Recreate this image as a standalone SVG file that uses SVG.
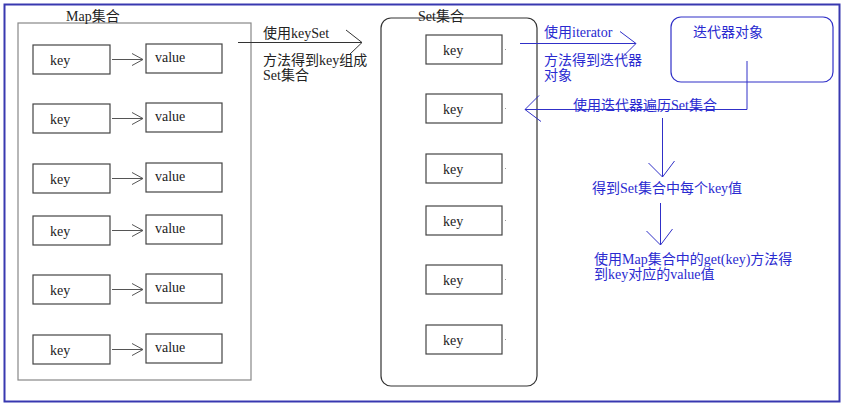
<svg xmlns="http://www.w3.org/2000/svg" width="846" height="404" viewBox="0 0 846 404">
<defs>
<style>
text{font-family:"Liberation Serif","Noto Sans CJK SC",serif;font-size:14px;fill:#222}
.b{fill:#2a2ad0}
.box{fill:#fff;stroke:#444;stroke-width:1.2}
.ln{stroke:#555;stroke-width:1;fill:none}
.bl{stroke:#3030c8;stroke-width:1;fill:none}
</style>
<marker id="ah" markerWidth="14" markerHeight="14" refX="12" refY="7" orient="auto" markerUnits="userSpaceOnUse">
<path d="M1,1 L12,7 L1,13" fill="none" stroke="#555" stroke-width="1"/>
</marker>
<marker id="ahb" markerWidth="24" markerHeight="32" refX="22" refY="16" orient="auto" markerUnits="userSpaceOnUse">
<path d="M6,4 L22,16 L8,30" fill="none" stroke="#3030c8" stroke-width="1"/>
</marker>
</defs>
<rect width="846" height="404" fill="#fff"/>
<rect x="4.5" y="4.5" width="835" height="397" fill="none" stroke="#3838b0" stroke-width="2"/>

<g id="map">
<rect x="18" y="23" width="233" height="357" fill="#fff" stroke="#888" stroke-width="1.2"/>
<text x="66" y="21">Map集合</text>
</g>
<g id="map-entries">
<rect class="box" x="33" y="45" width="77" height="29"/><text x="50" y="65">key</text>
<rect class="box" x="146" y="44" width="76" height="29"/><text x="155" y="62">value</text>
<rect class="box" x="33" y="104" width="77" height="29"/><text x="50" y="124">key</text>
<rect class="box" x="146" y="103" width="76" height="29"/><text x="155" y="121">value</text>
<rect class="box" x="33" y="164" width="77" height="29"/><text x="50" y="184">key</text>
<rect class="box" x="146" y="163" width="76" height="29"/><text x="155" y="181">value</text>
<rect class="box" x="33" y="216" width="77" height="29"/><text x="50" y="236">key</text>
<rect class="box" x="146" y="215" width="76" height="29"/><text x="155" y="233">value</text>
<rect class="box" x="33" y="275" width="77" height="29"/><text x="50" y="295">key</text>
<rect class="box" x="146" y="274" width="76" height="29"/><text x="155" y="292">value</text>
<rect class="box" x="33" y="335" width="77" height="29"/><text x="50" y="355">key</text>
<rect class="box" x="146" y="334" width="76" height="29"/><text x="155" y="352">value</text>
</g>

<g id="set">
<rect x="381" y="18" width="156" height="368" rx="10" fill="#fff" stroke="#333" stroke-width="1.2"/>
<text x="418" y="21">Set集合</text>
</g>
<g id="set-keys">
<rect class="box" x="426" y="35" width="76" height="29"/><text x="443" y="55">key</text>
<rect class="box" x="426" y="94" width="76" height="29"/><text x="443" y="114">key</text>
<rect class="box" x="426" y="154" width="76" height="29"/><text x="443" y="174">key</text>
<rect class="box" x="426" y="206" width="76" height="29"/><text x="443" y="226">key</text>
<rect class="box" x="426" y="265" width="76" height="29"/><text x="443" y="285">key</text>
<rect class="box" x="426" y="325" width="76" height="29"/><text x="443" y="345">key</text>
<g fill="#999">
<rect x="505" y="49" width="1" height="1"/><rect x="505" y="108" width="1" height="1"/>
<rect x="505" y="168" width="1" height="1"/><rect x="505" y="220" width="1" height="1"/>
<rect x="505" y="279" width="1" height="1"/><rect x="505" y="339" width="1" height="1"/>
</g>
</g>

<g id="iterator">
<rect x="671" y="17" width="162" height="65" rx="10" fill="#fff" stroke="#3030c8" stroke-width="1.2"/>
<text class="b" x="693" y="37">迭代器对象</text>
</g>

<g id="labels">
<text x="263" y="38">使用keySet</text>
<text x="263" y="65">方法得到key组成</text>
<text x="263" y="80">Set集合</text>
<text class="b" x="544" y="37">使用iterator</text>
<text class="b" x="544" y="65">方法得到迭代器</text>
<text class="b" x="544" y="80">对象</text>
<text class="b" x="573" y="110">使用迭代器遍历Set集合</text>
<text class="b" x="592" y="193">得到Set集合中每个key值</text>
<text class="b" x="594" y="264">使用Map集合中的get(key)方法得</text>
<text class="b" x="594" y="279">到key对应的value值</text>
</g>

<g id="connectors">
<line class="ln" x1="112" y1="59.5" x2="143" y2="59.5" marker-end="url(#ah)"/>
<line class="ln" x1="112" y1="118.5" x2="143" y2="118.5" marker-end="url(#ah)"/>
<line class="ln" x1="112" y1="178.5" x2="143" y2="178.5" marker-end="url(#ah)"/>
<line class="ln" x1="112" y1="230.5" x2="143" y2="230.5" marker-end="url(#ah)"/>
<line class="ln" x1="112" y1="289.5" x2="143" y2="289.5" marker-end="url(#ah)"/>
<line class="ln" x1="112" y1="349.5" x2="143" y2="349.5" marker-end="url(#ah)"/>
<line x1="238" y1="42.5" x2="362" y2="42.5" stroke="#333" stroke-width="1"/>
<path d="M346,30 L362,42.5 L349,55" fill="none" stroke="#333" stroke-width="1"/>
<line class="bl" x1="520" y1="43.5" x2="636" y2="43.5" marker-end="url(#ahb)"/>
<polyline class="bl" points="747,61 747,109.5 525,109.5" marker-end="url(#ahb)"/>
<line class="bl" x1="662.5" y1="118" x2="662.5" y2="177" marker-end="url(#ahb)"/>
<line class="bl" x1="660.5" y1="203" x2="660.5" y2="245" marker-end="url(#ahb)"/>
</g>
</svg>
